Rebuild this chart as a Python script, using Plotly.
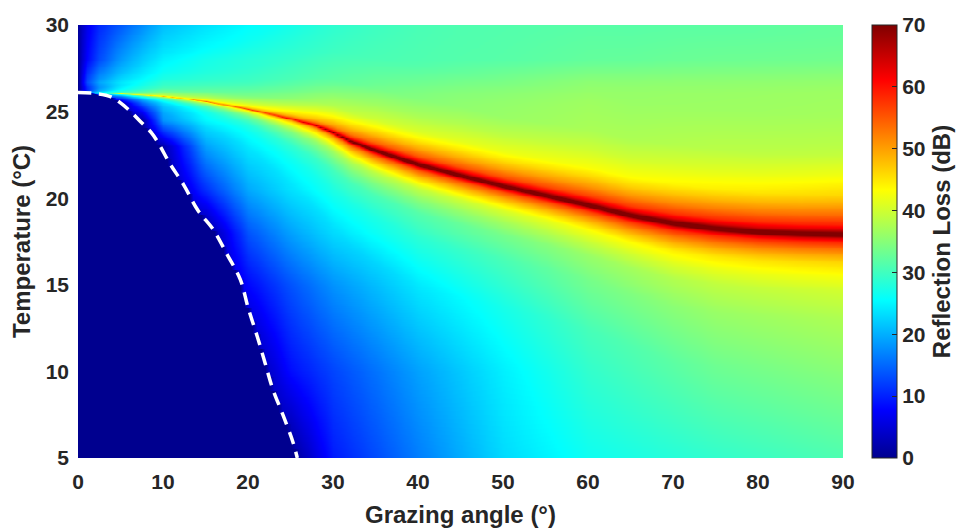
import numpy as np
import plotly.graph_objects as go

# ---------------- data ----------------
angle_ticks = [0, 10, 20, 30, 40, 50, 60, 70, 80, 90]
temp_ticks = [5, 10, 15, 20, 25, 30]
loss_ticks = [0, 10, 20, 30, 40, 50, 60, 70]

# white dashed curve: critical grazing angle vs temperature
crit_temp = [26.1, 26.05, 25.85, 25.5, 25.0, 24.4, 23.8, 23.15, 22.0, 20.8, 19.3,
             18.2, 16.7, 15.3, 13.7, 12.0, 10.5, 9.0, 7.5, 5.9, 5.0]
crit_angle = [0.0, 2.0, 3.9, 5.0, 6.2, 7.4, 8.6, 9.5, 10.8, 12.4, 14.1,
              15.9, 17.6, 19.1, 20.0, 21.1, 22.0, 22.9, 24.1, 25.3, 25.8]

# background reflection loss (dB) away from the ridge
bg_angle = [0, 1, 2.5, 5, 7.5, 10, 15, 20, 25, 30, 40, 50, 60, 75, 90]
bg_temp = [5, 10, 15, 18, 20.5, 23, 24.5, 25.5, 26.1, 26.7, 28, 30]
bg_loss_t05 = [0, 0, 0, 0, 0, 0, 0, 0, 0, 9.5, 16.5, 23, 26.5, 29, 31]
bg_loss_t10 = [0, 0, 0, 0, 0, 0, 0, 0, 8.5, 12.5, 19, 24.5, 29, 33, 35]
bg_loss_t15 = [0, 0, 0, 0, 0, 0, 0, 8, 13.5, 18, 24, 28, 32, 35.5, 37]
bg_loss_t18 = [0, 0, 0, 0, 0, 0, 0, 13.5, 19, 23, 27, 30, 33, 36, 37.5]
bg_loss_t205 = [0, 0, 0, 0, 0, 0, 11, 19.5, 23.5, 26, 28, 30.5, 32.5, 35, 37]
bg_loss_t23 = [0, 0, 0, 0, 0, 2, 19, 24, 26, 27.5, 30, 32, 33.5, 35, 35.5]
bg_loss_t245 = [0, 0, 0, 0, 1, 18, 24.5, 26, 27.5, 28.5, 30.5, 32.5, 34, 35, 35.5]
bg_loss_t255 = [0, 0, 0, 2, 14, 21, 25, 27, 28, 29, 31, 33, 34.5, 35, 35.5]
bg_loss_t261 = [0, 8, 14, 20, 23, 24.5, 26.5, 27.5, 28, 29, 31, 33, 34.5, 35, 35.5]
bg_loss_t267 = [0, 13, 19, 23, 24.5, 26, 27, 27.5, 28, 28.5, 30.5, 32.5, 34, 34.5, 35]
bg_loss_t28 = [0.5, 8, 13, 18.5, 22, 24.5, 26.5, 27.5, 28, 28.5, 29.5, 30.5, 31.5, 32.5, 33]
bg_loss_t30 = [1, 6.5, 10.5, 14, 17.5, 21, 23.5, 25.5, 26.8, 28, 30, 31, 31.5, 32, 32.5]

# high-loss ridge: centre temperature, peak loss and half-widths (below / above)
ridge_angle = [0, 2.5, 5, 10, 15, 20, 25, 28, 30, 32, 35, 40, 45, 50, 55, 60, 65, 70, 75, 80, 85, 90]
ridge_temp = [26.1, 26.08, 26.05, 25.9, 25.6, 25.15, 24.6, 24.2, 23.8, 23.3, 22.75, 21.95,
              21.3, 20.7, 20.15, 19.6, 19.0, 18.55, 18.25, 18.05, 17.95, 17.9]
ridge_peak = [20, 36, 42, 48, 53, 57, 62, 66, 70, 74, 77, 78, 78, 78, 78, 78, 78, 78, 78, 78, 78, 78]
ridge_w_below = [0.01, 0.03, 0.05, 0.1, 0.15, 0.22, 0.38, 0.48, 0.55, 0.6, 0.65, 0.7,
                 0.7, 0.7, 0.7, 0.72, 0.75, 0.8, 0.8, 0.8, 0.8, 0.8]
ridge_w_above = [0.02, 0.08, 0.12, 0.25, 0.3, 0.4, 0.58, 0.7, 0.78, 0.84, 0.9, 0.95,
                 1.0, 1.0, 1.05, 1.1, 1.1, 1.15, 1.15, 1.15, 1.15, 1.15]
# cross-ridge profile: share of the peak excess vs offset / half-width
ridge_offset = [0, 0.1, 0.25, 0.5, 1, 1.5, 2, 3, 4, 6, 10]
ridge_share = [1, 0.81, 0.66, 0.53, 0.4, 0.3, 0.22, 0.14, 0.08, 0.035, 0]

# ---------------- build the colour table for the heatmap ----------------
bg_loss = [bg_loss_t05, bg_loss_t10, bg_loss_t15, bg_loss_t18, bg_loss_t205, bg_loss_t23,
           bg_loss_t245, bg_loss_t255, bg_loss_t261, bg_loss_t267, bg_loss_t28, bg_loss_t30]
A = np.round(np.arange(0, 90.001, 0.5), 3)
T = np.round(np.arange(5, 30.0001, 0.05), 3)

rows_a = np.array([np.interp(A, bg_angle, r) for r in bg_loss])
B = np.array([np.interp(T, bg_temp, rows_a[:, j]) for j in range(len(A))]).T

rT = np.interp(A, ridge_angle, ridge_temp)
rP = np.interp(A, ridge_angle, ridge_peak)
wB = np.interp(A, ridge_angle, ridge_w_below)
wA = np.interp(A, ridge_angle, ridge_w_above)
d = T[:, None] - rT[None, :]
w = np.where(d >= 0, wA[None, :], wB[None, :])
share = np.interp(np.abs(d) / w, ridge_offset, ridge_share)
Z = B + np.maximum(0, rP[None, :] - B) * share

ct = crit_temp[::-1]
ca = crit_angle[::-1]
critA = np.where(T <= ct[-1], np.interp(T, ct, ca), -1.0)
Z[A[None, :] < critA[:, None]] = 0.0
Z = np.round(Z, 1)

jet = [[0.0, "rgb(0,0,143)"], [0.111, "rgb(0,0,255)"], [0.365, "rgb(0,255,255)"],
       [0.619, "rgb(255,255,0)"], [0.873, "rgb(255,0,0)"], [1.0, "rgb(128,0,0)"]]

FONT = "Liberation Sans, Arial, Helvetica, sans-serif"
TXT = "#262626"

fig = go.Figure()
fig.add_trace(go.Heatmap(
    x=A, y=T, z=Z, zmin=0, zmax=70, colorscale=jet, zsmooth="best",
    hoverinfo="skip",
    colorbar=dict(
        title=dict(text="Reflection Loss (dB)", side="right",
                   font=dict(size=24, family=FONT, color=TXT, weight="bold")),
        tickvals=loss_ticks, ticks="inside", ticklen=5, tickcolor=TXT, tickwidth=1,
        tickfont=dict(size=21, family=FONT, color=TXT, weight="bold"),
        outlinewidth=1, outlinecolor=TXT,
        thicknessmode="pixels", thickness=25,
        lenmode="fraction", len=1.0,
        x=1 + (872 - 843) / 765, xanchor="left", xpad=0,
        y=0.5, yanchor="middle", ypad=0,
    ),
))
fig.add_trace(go.Scatter(
    x=crit_angle, y=crit_temp, mode="lines",
    line=dict(color="white", width=3.5, dash="13px,8px", shape="spline"),
    hoverinfo="skip", showlegend=False,
))

fig.update_layout(
    width=963, height=530,
    margin=dict(l=78, r=120, t=25, b=72, autoexpand=False),
    paper_bgcolor="white", plot_bgcolor="white",
    showlegend=False,
    font=dict(family=FONT, color=TXT, size=21, weight="bold"),
)
fig.update_xaxes(
    range=[0, 90], tickvals=angle_ticks, ticks="", showgrid=False, zeroline=False,
    showline=False, tickfont=dict(size=21, family=FONT, color=TXT, weight="bold"),
    title=dict(text="Grazing angle (°)", standoff=14,
               font=dict(size=24, family=FONT, color=TXT, weight="bold")),
    ticklabelstandoff=9,
)
fig.update_yaxes(
    range=[5, 30], tickvals=temp_ticks, ticks="", showgrid=False, zeroline=False,
    showline=False, tickfont=dict(size=21, family=FONT, color=TXT, weight="bold"),
    title=dict(text="Temperature (°C)", standoff=8,
               font=dict(size=24, family=FONT, color=TXT, weight="bold")),
    ticklabelstandoff=8,
)

fig.write_html("out.html")
